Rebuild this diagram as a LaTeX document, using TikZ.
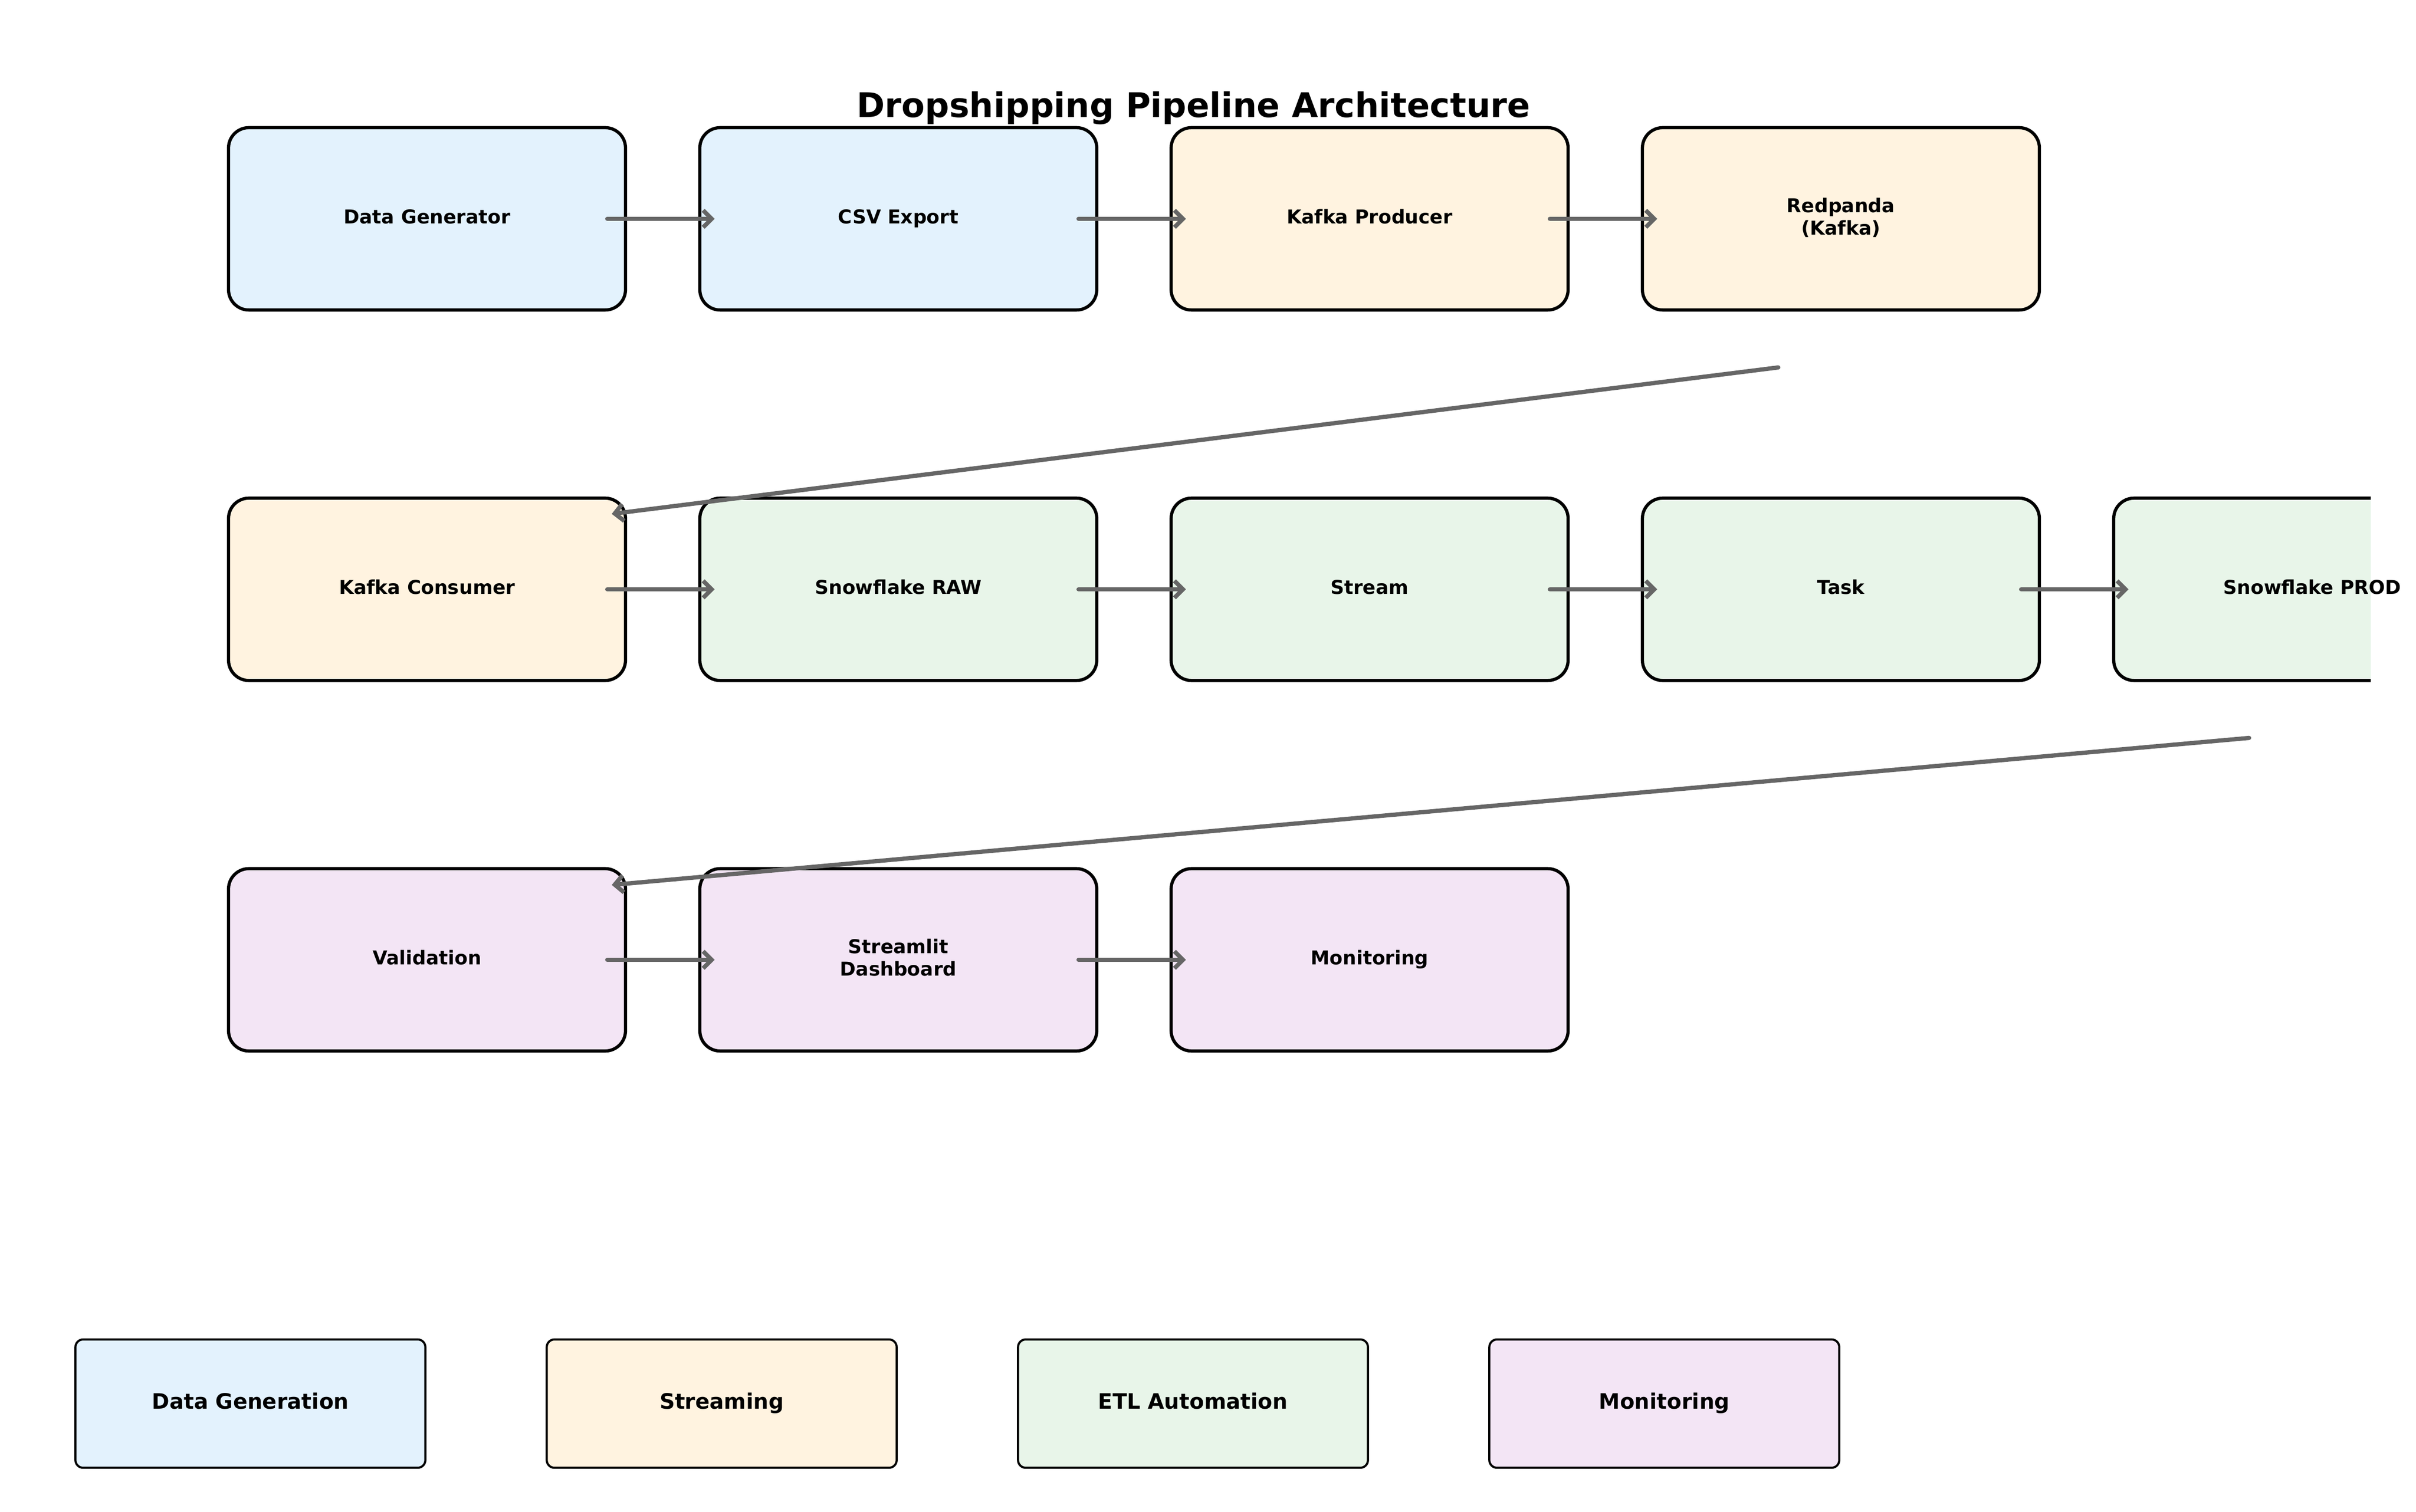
\documentclass[tikz,border=0pt]{standalone}
\usepackage{fontspec}
\setmainfont{DejaVu Sans}
\usetikzlibrary{arrows.meta,calc}

\definecolor{gencol}{HTML}{E3F2FD}
\definecolor{streamcol}{HTML}{FFF3E0}
\definecolor{etlcol}{HTML}{E8F5E9}
\definecolor{moncol}{HTML}{F3E5F5}
\definecolor{arrowgray}{HTML}{666666}

\begin{document}
\begin{tikzpicture}[x=24pt, y=24pt,
	stage/.style={draw, line width=1.5pt, rounded corners=9.6pt, minimum width=187.2pt, minimum height=86pt, outer sep=0pt, inner sep=0pt, align=center, text height=6.84pt, text depth=2.16pt, font=\fontsize{9}{10.5}\selectfont\bfseries},
	twoline/.style={text height=17.34pt},
	key/.style={draw, line width=1pt, rounded corners=3.6pt, minimum width=165pt, minimum height=60.5pt, outer sep=0pt, text height=7.6pt, text depth=2.4pt, font=\fontsize{10}{12}\selectfont\bfseries},
	flow/.style={arrowgray, line width=2pt, line cap=round, -{Straight Barb[length=4pt,width=8pt]}, shorten <=-8.6pt, shorten >=-7pt},
	jump/.style={arrowgray, line width=2pt, line cap=round, -{Straight Barb[length=4pt,width=8pt]}}]
	\useasboundingbox (0,0) rectangle (47.47,29.70);

	\node[font=\fontsize{16}{19.2}\selectfont\bfseries, anchor=base] (title) at (23.45,27.39) {Dropshipping Pipeline Architecture};

	\node[stage, fill=gencol] (gen) at (8.39,25.40) {Data Generator};
	\node[stage, fill=gencol] (csv) at (17.65,25.40) {CSV Export};
	\node[stage, fill=streamcol] (producer) at (26.91,25.40) {Kafka Producer};
	\node[stage, twoline, fill=streamcol] (redpanda) at (36.17,25.40) {Redpanda\\(Kafka)};

	\node[stage, fill=streamcol] (consumer) at (8.39,18.12) {Kafka Consumer};
	\node[stage, fill=etlcol] (raw) at (17.65,18.12) {Snowflake RAW};
	\node[stage, fill=etlcol] (stream) at (26.91,18.12) {Stream};
	\node[stage, fill=etlcol] (task) at (36.17,18.12) {Task};
	\begin{scope}
	\clip (0,0) rectangle (46.58,29.70);
	\node[stage, fill=etlcol] (prod) at (45.43,18.12) {};
	\end{scope}
	\node[stage, draw=none] (prodtext) at (prod) {Snowflake PROD};

	\node[stage, fill=moncol] (validation) at (8.39,10.84) {Validation};
	\node[stage, twoline, fill=moncol] (dashboard) at (17.65,10.84) {Streamlit\\Dashboard};
	\node[stage, fill=moncol] (monitoring) at (26.91,10.84) {Monitoring};

	\draw[flow] (gen) -- (csv);
	\draw[flow] (csv) -- (producer);
	\draw[flow] (producer) -- (redpanda);
	\draw[flow] (consumer) -- (raw);
	\draw[flow] (raw) -- (stream);
	\draw[flow] (stream) -- (task);
	\draw[flow] (task) -- (prod);
	\draw[flow] (validation) -- (dashboard);
	\draw[flow] (dashboard) -- (monitoring);

	\coordinate (rpout) at (34.94,22.48);
	\draw[jump] (rpout) -- ($(consumer.north east)+(-0.27,-0.31)$);
	\coordinate (prodout) at (44.19,15.20);
	\draw[jump] (prodout) -- ($(validation.north east)+(-0.27,-0.32)$);

	\node[key, fill=gencol] (keygen) at (4.92,2.12) {Data Generation};
	\node[key, fill=streamcol] (keystream) at (14.18,2.12) {Streaming};
	\node[key, fill=etlcol] (keyetl) at (23.44,2.12) {ETL Automation};
	\node[key, fill=moncol] (keymon) at (32.70,2.12) {Monitoring};
\end{tikzpicture}
\end{document}
